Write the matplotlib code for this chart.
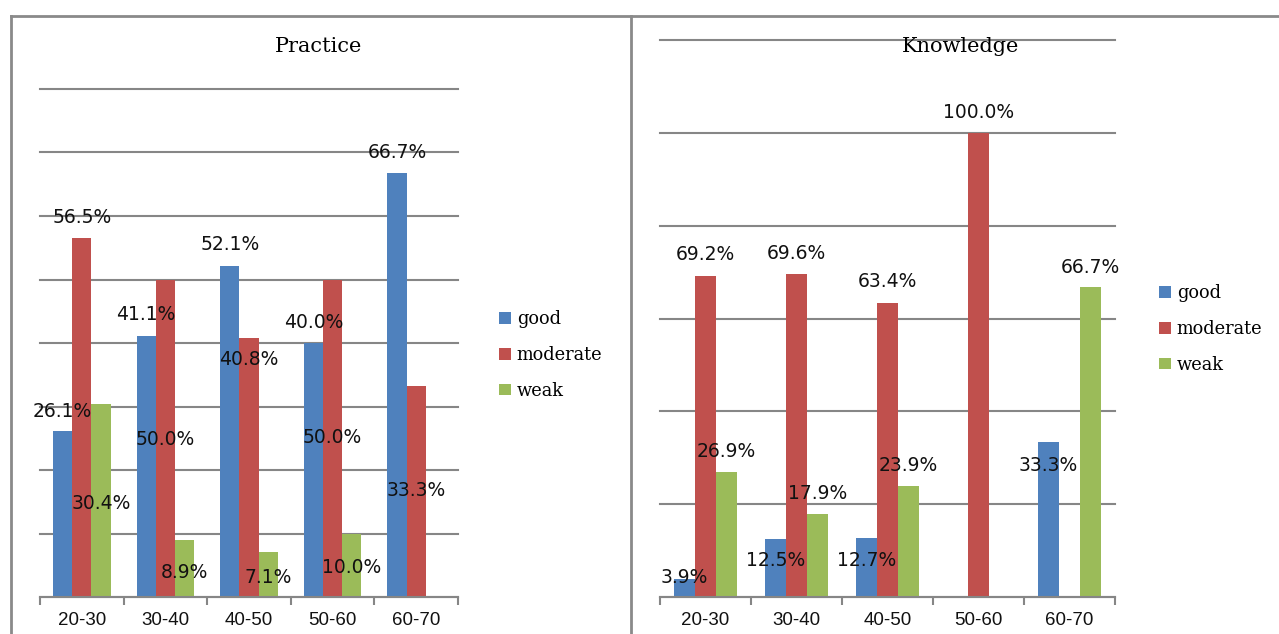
import numpy as np
import matplotlib
matplotlib.use('Agg')
import matplotlib.pyplot as plt
from matplotlib.lines import Line2D
from matplotlib.patches import Patch
from matplotlib.ticker import FixedLocator, MultipleLocator

W, H = 1279, 634

age_groups = ['20-30', '30-40', '40-50', '50-60', '60-70']
levels = ['good', 'moderate', 'weak']
colors = ['#4F81BD', '#C0504D', '#9BBB59']

# Practice (%)
practice_good = [26.1, 41.1, 52.1, 40.0, 66.7]
practice_moderate = [56.5, 50.0, 40.8, 50.0, 33.3]
practice_weak = [30.4, 8.9, 7.1, 10.0, 0]

# Knowledge (%)
knowledge_good = [3.9, 12.5, 12.7, 0, 33.3]
knowledge_moderate = [69.2, 69.6, 63.4, 100.0, 0]
knowledge_weak = [26.9, 17.9, 23.9, 0, 66.7]

# heights where the original puts each data label (None = no label)
practice_label_y = [[29.2, 44.5, 55.5, 43.2, 70.0],
                    [59.8, 24.8, 37.4, 25.1, 16.7],
                    [14.8, 3.9, 3.0, 4.7, None]]
knowledge_label_y = [[4.3, 7.8, 7.8, None, 28.4],
                     [73.7, 74.1, 67.9, 104.3, None],
                     [31.3, 22.4, 28.4, None, 70.9]]

GRID = '#868686'
SERIF = 'DejaVu Serif'
SANS = 'Liberation Sans'


def px_box(x0, x1, y_top, y_bot):
    # figure-fraction rectangle from pixel edges
    return [x0 / W, 1 - y_bot / H, (x1 - x0) / W, (y_bot - y_top) / H]


def draw_panel(ax, series, label_y, ymax, ystep, title, title_x, legend_xy):
    x = np.arange(len(age_groups))
    width = 0.23
    offsets = [-width, 0, width]
    for vals, off, col, lab, ly in zip(series, offsets, colors, levels, label_y):
        ax.bar(x + off, vals, width, color=col, label=lab, zorder=3)
        for xi, v, yy in zip(x, vals, ly):
            if yy is None:
                continue
            ax.text(xi + off, yy, f'{v:.1f}%', ha='center', va='center',
                    fontsize=13.5, family='DejaVu Sans', color='#111111',
                    zorder=4, clip_on=False)

    ax.set_xlim(-0.5, len(age_groups) - 0.5)
    ax.set_ylim(0, ymax)
    ax.yaxis.set_major_locator(MultipleLocator(ystep))
    ax.yaxis.grid(True, color=GRID, lw=1.5, zorder=0)
    for gl in ax.get_ygridlines():
        gl.set_clip_on(False)
    ax.set_yticklabels([])
    ax.tick_params(axis='y', length=0)

    ax.set_xticks(x)
    ax.set_xticklabels(age_groups, fontsize=13.5, family=SANS, color='#111111')
    ax.xaxis.set_minor_locator(FixedLocator(np.arange(-0.5, len(age_groups), 1)))
    ax.tick_params(axis='x', which='major', length=0, pad=11)
    ax.tick_params(axis='x', which='minor', length=6, width=1.5, color=GRID,
                   direction='out')

    for s in ['top', 'right', 'left']:
        ax.spines[s].set_visible(False)
    ax.spines['bottom'].set_color(GRID)
    ax.spines['bottom'].set_linewidth(1.5)
    ax.spines['bottom'].set_zorder(5)

    fig.text(title_x / W, 1 - 47 / H, title, ha='center', va='center',
             fontsize=15, family=SERIF)

    handles = [Patch(facecolor=c, edgecolor='none') for c in colors]
    fig.legend(handles, levels, loc='center left',
               bbox_to_anchor=(legend_xy[0] / W, 1 - legend_xy[1] / H),
               frameon=False, prop={'family': SERIF, 'size': 12.8},
               handlelength=0.65, handleheight=0.65, handletextpad=0.35,
               labelspacing=1.0, borderpad=0, borderaxespad=0)


fig = plt.figure(figsize=(W / 100, H / 100), dpi=100)

ax1 = fig.add_axes(px_box(40, 458, 89, 597))
draw_panel(ax1, [practice_good, practice_moderate, practice_weak],
           practice_label_y, 80, 10, 'Practice', 319, (499, 355))

ax2 = fig.add_axes(px_box(660, 1115, 40, 597))
draw_panel(ax2, [knowledge_good, knowledge_moderate, knowledge_weak],
           knowledge_label_y, 120, 20, 'Knowledge', 961, (1159, 329))

# panel frames
border = dict(color='#8a8a8a', lw=2)
fig.add_artist(Line2D([11 / W, 1], [1 - 15.5 / H] * 2, **border))
fig.add_artist(Line2D([11 / W] * 2, [0, 1 - 15.5 / H], **border))
fig.add_artist(Line2D([631 / W] * 2, [0, 1 - 15.5 / H], **border))

fig.savefig('out.png', dpi=100)
